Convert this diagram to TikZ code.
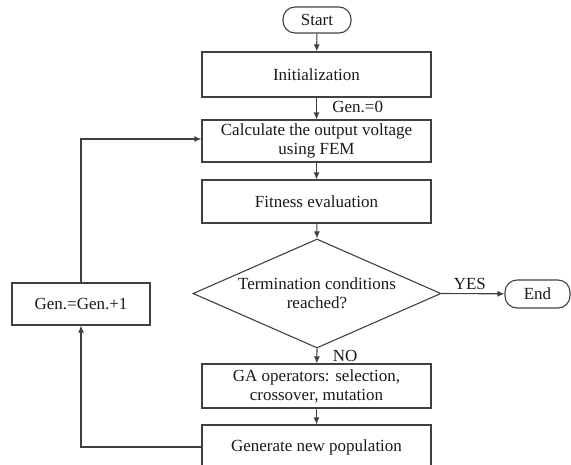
\documentclass[tikz,border=0pt]{standalone}
\usepackage{fontspec}
\setmainfont{Liberation Serif}
\usetikzlibrary{shapes.geometric,arrows.meta}
\begin{document}
\begin{tikzpicture}[x=1pt,y=-1pt,
  every node/.style={font=\fontsize{17}{19}\selectfont, text=black!90},
  line/.style={draw=black!75, line width=1.1pt},
  box/.style={line, rectangle, inner sep=0pt, align=center},
  term/.style={line, rectangle, rounded corners=12pt, inner sep=0pt},
  dec/.style={line, diamond, aspect=2.275, inner sep=0pt, align=center},
  arr/.style={line, -{Latex[length=7pt,width=6pt]}}]
\useasboundingbox (0,0) rectangle (571,464);
\node[term, minimum width=68pt, minimum height=26pt] (start) at (317,20) {Start};
\node[box, minimum width=229pt, minimum height=45pt] (init) at (316.5,74.5) {Initialization};
\node[box, minimum width=229pt, minimum height=42pt] (calc) at (316.5,141) {Calculate the output voltage\\using FEM};
\node[box, minimum width=229pt, minimum height=43pt] (fit) at (316.5,201.5) {Fitness evaluation};
\node[dec, minimum width=248pt, minimum height=109pt] (cond) at (317,293.5) {Termination conditions\\reached?};
\node[term, minimum width=65pt, minimum height=28pt] (end) at (537.5,294) {End};
\node[box, minimum width=229pt, minimum height=44pt] (ga) at (316.5,386) {GA operators: selection,\\crossover, mutation};
\node[box, minimum width=229pt, minimum height=44pt] (gen) at (316.5,447) {Generate new population};
\node[box, minimum width=138pt, minimum height=42pt] (inc) at (81,304) {Gen.=Gen.+1};
\coordinate (c1) at (81,447);
\coordinate (c2) at (81,139);
\draw[arr] (start) -- (init);
\draw[arr] (init) -- node[right=12pt, pos=0.45] (g0) {Gen.=0} (calc);
\draw[arr] (calc) -- (fit);
\draw[arr] (fit) -- (cond.north);
\draw[arr] (cond.east) -- node[above, pos=0.45] (yes) {YES} (end);
\draw[arr] (cond.south) -- node[right=12pt, pos=0.5] (no) {NO} (ga);
\draw[arr] (ga) -- (gen);
\draw[arr] (gen.west) -- (c1) -- (inc.south);
\draw[arr] (inc.north) -- (c2) -- (calc.west |- c2);
\end{tikzpicture}
\end{document}
